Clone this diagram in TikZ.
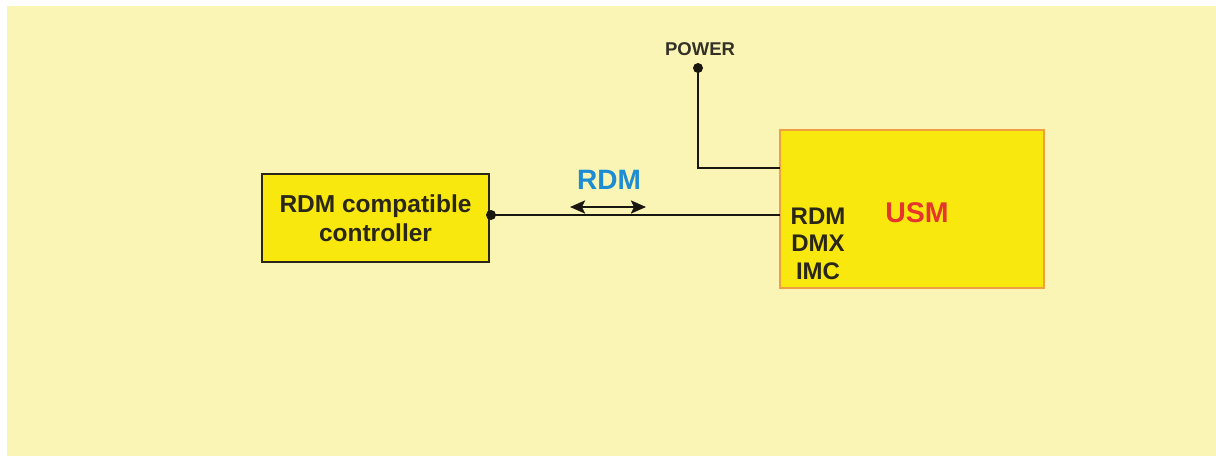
\documentclass[tikz,border=0pt]{standalone}
\usepackage{fontspec}
\setmainfont{Liberation Sans}
\usetikzlibrary{arrows.meta}
\definecolor{paper}{HTML}{FAF5B4}
\definecolor{boxfill}{HTML}{F8E80E}
\definecolor{boxline}{HTML}{2A2618}
\definecolor{usmline}{HTML}{F0A040}
\definecolor{wire}{HTML}{1A1610}
\definecolor{rdmblue}{HTML}{1E8CD2}
\definecolor{usmred}{HTML}{E5352C}
\definecolor{labelgray}{HTML}{333028}
\tikzset{
  unitbox/.style={draw, fill=boxfill, inner sep=0pt, outer sep=0pt},
  wireline/.style={draw=wire, line width=2.4pt},
  terminal/.style={circle, fill=wire, inner sep=0pt, minimum size=10pt},
  btext/.style={font=\bfseries\fontsize{24}{28}\selectfont, text=boxline, inner sep=0pt},
  headtip/.tip={Stealth[length=15pt,width=13pt,inset=3pt]}
}
\begin{document}
\begin{tikzpicture}[x=1pt,y=-1pt]
  % canvas
  \fill[white] (0,0) rectangle (1216,458);
  \fill[paper] (7,6) rectangle (1216,456);
  \useasboundingbox (0,0) rectangle (1216,458);

  % blocks
  \node[unitbox, draw=boxline, line width=2.5pt, minimum width=227pt, minimum height=88pt,
        align=center, btext, font=\bfseries\fontsize{24.5}{28.5}\selectfont] (ctrl) at (375.5,218)
        {RDM compatible\\controller};
  \node[unitbox, draw=usmline, line width=2pt, minimum width=264pt, minimum height=158pt]
        (usm) at (912,209) {};

  % texts inside the USM block
  \node[font=\bfseries\fontsize{28.5}{32}\selectfont, text=usmred] (usmname) at (917,213) {USM};
  \node[btext] (in1) at (818,216) {RDM};
  \node[btext] (in2) at (818,243) {DMX};
  \node[btext] (in3) at (818,271) {IMC};

  % power feed
  \node[terminal] (pwr) at (698,68) {};
  \node[font=\bfseries\fontsize{18.5}{20}\selectfont, text=labelgray] (pwrlabel) at (700,49) {POWER};
  \coordinate (bend) at (698,168);
  \draw[wireline] (pwr.center) -- (bend) -- (bend -| usm.west);

  % RDM link
  \node[terminal] (tap) at (491,215) {};
  \draw[wireline] (tap.center) -- (tap.center -| usm.west);

  % direction marker
  \coordinate (al) at (570,207);
  \coordinate (ar) at (646,207);
  \draw[wire, line width=2.4pt, {headtip}-{headtip}] (al) -- (ar);
  \node[font=\bfseries\fontsize{28}{32}\selectfont, text=rdmblue] (rdmlabel) at (609,180) {RDM};
\end{tikzpicture}
\end{document}
